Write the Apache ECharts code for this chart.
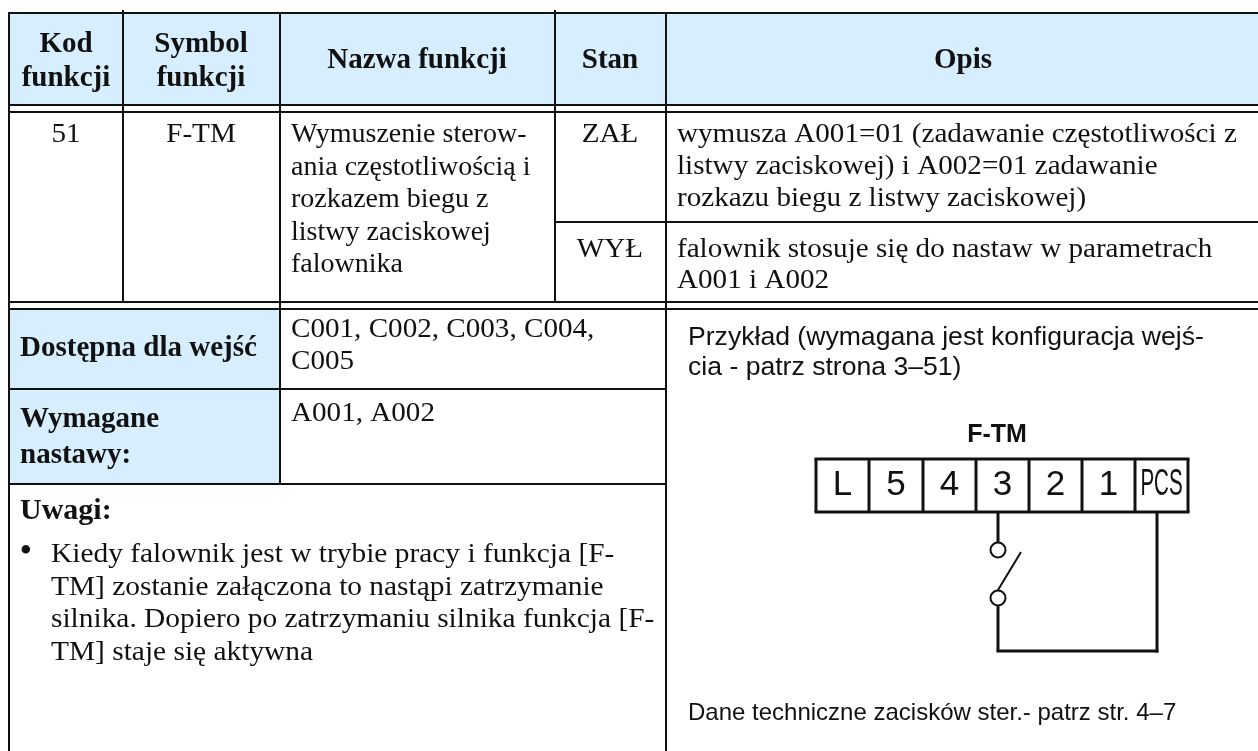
<!DOCTYPE html>
<html><head><meta charset="utf-8"><style>html,body{margin:0;padding:0;background:#fff}#c{width:1258px;height:751px}</style>
<script src="https://cdn.jsdelivr.net/npm/echarts@6/dist/echarts.min.js"></script></head>
<body><div id="c"></div><script>
const headers=[["Kod","funkcji"],["Symbol","funkcji"],["Nazwa funkcji"],["Stan"],["Opis"]];
const code=["51"];
const symbol=["F-TM"];
const funcName=["Wymuszenie sterow-","ania częstotliwością i","rozkazem biegu z","listwy zaciskowej","falownika"];
const states=["ZAŁ","WYŁ"];
const descOn=["wymusza A001=01 (zadawanie częstotliwości z","listwy zaciskowej) i A002=01 zadawanie","rozkazu biegu z listwy zaciskowej)"];
const descOff=["falownik stosuje się do nastaw w parametrach","A001 i A002"];
const availLabel=["Dostępna dla wejść"];
const availText=["C001, C002, C003, C004,","C005"];
const reqLabel=["Wymagane","nastawy:"];
const reqText=["A001, A002"];
const notesTitle=["Uwagi:"];
const notes=["Kiedy falownik jest w trybie pracy i funkcja [F-","TM] zostanie załączona to nastąpi zatrzymanie","silnika. Dopiero po zatrzymaniu silnika funkcja [F-","TM] staje się aktywna"];
const example=["Przykład (wymagana jest konfiguracja wejś-","cia - patrz strona 3–51)"];
const diagramTitle=["F-TM"];
const terminals=["L","5","4","3","2","1","PCS"];
const footnote=["Dane techniczne zacisków ster.- patrz str. 4–7"];

const SERIF='"Liberation Serif","Times New Roman",serif',SANS='"Liberation Sans",Arial,sans-serif';
const BLUE='#d6eefe',INK='#111';
const g=[];
const rect=(x,y,w,h,fill)=>g.push({type:'rect',shape:{x,y,width:w,height:h},style:{fill},silent:true});
const line=(x1,y1,x2,y2,w=2)=>g.push({type:'line',shape:{x1,y1,x2,y2},style:{stroke:INK,lineWidth:w,lineCap:'butt'},silent:true});
const text=(s,x,y,o={})=>g.push({type:'text',x,y,scaleX:o.sx||1,style:{text:s,fill:o.fill||INK,font:`${o.bold?'bold ':''}${o.size||28}px ${o.font||SERIF}`,textAlign:o.align||'left',textVerticalAlign:'middle'},silent:true});
const block=(arr,x,y,lh,o)=>arr.forEach((s,i)=>text(s,x,y+i*lh,o));

const L=9,C1=123,C2=280,C3=555,C4=666,R=1258,T=13,H=105,D1=112,S=222,B=302,D2=309,A=389,W=484,E=751;
rect(L,T,R-L,H-T,BLUE);
rect(L,D2,C2-L,W-D2,BLUE);
[[L,T,R,T],[L,H,R,H],[L,D1,R,D1],[C3,S,R,S],[L,B,R,B],[L,D2,R,D2],[L,A,C4,A],[L,W,C4,W]].forEach(a=>line(...a));
line(L,T-1,L,E);
line(C1,T-3,C1,B);
line(C2,T,C2,W);
line(C3,T-3,C3,B);
line(C4,T,C4,E);

const body={sx:1.04};
const hb={bold:true,align:'center',size:29};
block(headers[0],66,45,34,hb);block(headers[1],201,45,34,hb);
text(headers[2][0],417,61,hb);text(headers[3][0],610,61,hb);text(headers[4][0],963,61,hb);
const ctr={align:'center',sx:1.04};
text(code[0],66,135,ctr);text(symbol[0],201,135,ctr);
block(funcName,291,135,32.5,{sx:1});
text(states[0],610,135,ctr);text(states[1],610,250,ctr);
block(descOn,677,135,32,body);block(descOff,677,250,31,body);
const lb={bold:true,size:29};
text(availLabel[0],20,349,lb);
block(availText,291,330,32,body);
block(reqLabel,20,420,36,lb);
text(reqText[0],291,414,body);
text(notesTitle[0],20,511,{bold:true,size:30});
text('•',19.5,553,{size:36});
block(notes,51,555,32.5,{sx:1.05});
block(example,688,338,30,{font:SANS,size:26.6});
text(diagramTitle[0],997,435,{font:SANS,bold:true,size:25,align:'center'});

const bx=[816,869,923,976,1029,1082,1135,1188],bt=459,bb=512;
[[bx[0],bt,bx[7],bt],[bx[0],bb,bx[7],bb]].forEach(a=>line(a[0]-1.5,a[1],a[2]+1.5,a[3],3));
bx.forEach(x=>line(x,bt,x,bb,3));
terminals.forEach((t,i)=>{const cx=(bx[i]+bx[i+1])/2;
  if(t==='PCS')text(t,cx,485,{font:SANS,size:36,align:'center',sx:.57});
  else text(t,cx,485,{font:SANS,size:35,align:'center'});});
line(998,bb,998,542,3);
line(998,606,998,651,3);line(996.5,651,1158.5,651,3);line(1157,bb,1157,652.5,3);
line(998,590,1021,552,2);
[550,598].forEach(cy=>g.push({type:'circle',shape:{cx:998,cy,r:7.5},style:{fill:'#fff',stroke:INK,lineWidth:2},silent:true}));
text(footnote[0],688,713,{font:SANS,size:24});

echarts.init(document.getElementById('c'),null,{renderer:'canvas'}).setOption({animation:false,backgroundColor:'#fff',graphic:{elements:g}});
</script></body></html>
